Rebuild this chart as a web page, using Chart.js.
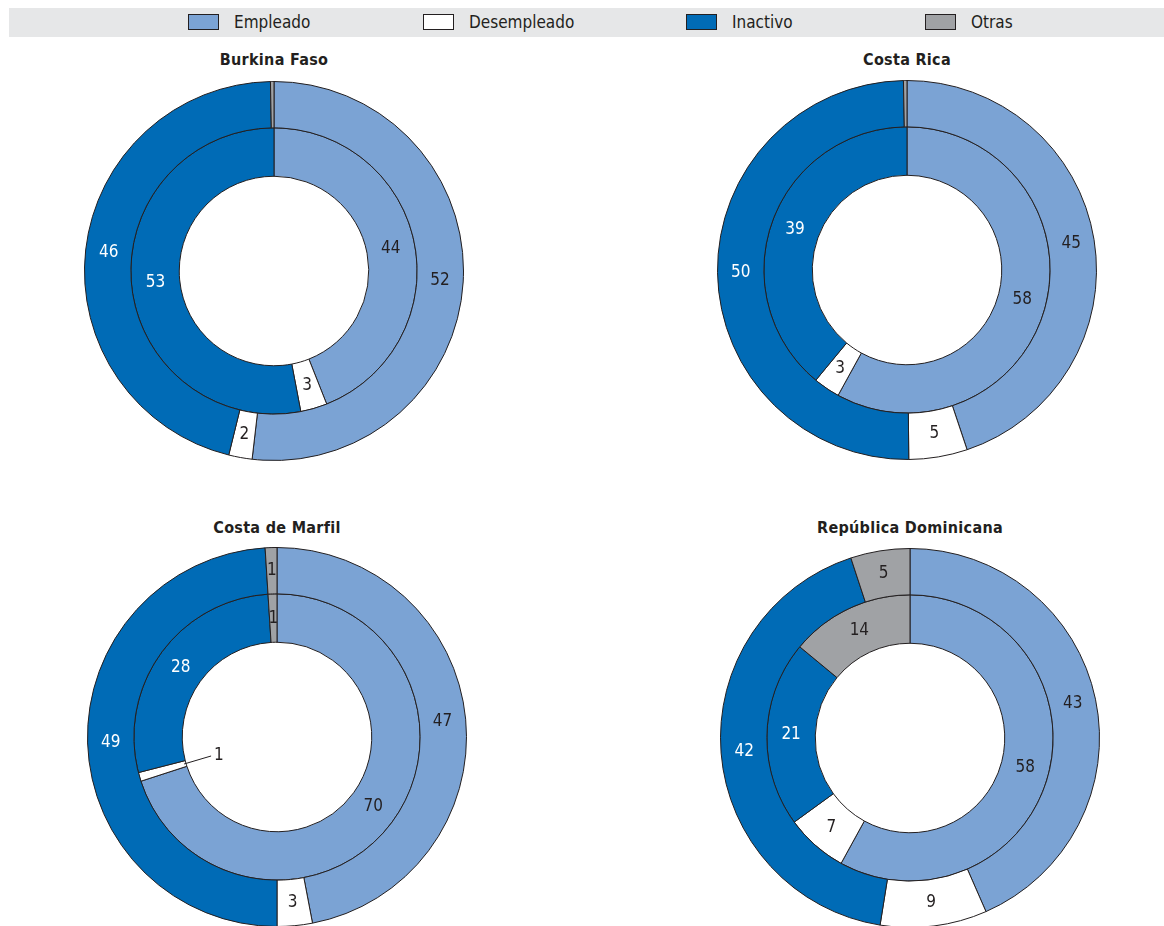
<!DOCTYPE html>
<html>
<head>
<meta charset="utf-8">
<script src="https://cdn.jsdelivr.net/npm/chart.js@4.4.0/dist/chart.umd.min.js"></script>
<style>
  body { margin: 0; background: #fff; font-family: 'Liberation Sans Narrow', 'DejaVu Sans Condensed', 'Roboto', sans-serif; color: #231f20; }
  #page { position: relative; width: 1164px; height: 926px; overflow: hidden; }
  #legend { position: absolute; left: 9px; top: 8px; width: 1155px; height: 29px; background: #e6e7e8; }
  .item { position: absolute; top: 0; height: 29px; line-height: 29px; font-size: 17px; }
  .item .box { position: absolute; top: 6px; left: 0; width: 29px; height: 14px; border: 1px solid #231f20; }
  .item span { position: absolute; left: 46px; white-space: nowrap; }
  .title { position: absolute; width: 400px; text-align: center; font-weight: bold; font-size: 16px; letter-spacing: 0.3px; }
  .wrap { position: absolute; }
</style>
</head>
<body>
<div id="page">
  <div id="legend"></div>
</div>
<script>
// categories and colours
var categories = ['Empleado', 'Desempleado', 'Inactivo', 'Otras'];
var colors = ['#7ba3d4', '#ffffff', '#006bb6', '#a0a2a5'];
var countries = ['Burkina Faso', 'Costa Rica', 'Costa de Marfil', 'República Dominicana'];

// outer ring / inner ring shares (%)
var outerBF = [52, 2, 46, 0.3];
var innerBF = [44, 3, 53, 0];
var outerCR = [45, 5, 50, 0.3];
var innerCR = [58, 3, 39, 0];
var outerCM = [47, 3, 49, 1];
var innerCM = [70, 1, 28, 1];
var outerRD = [43, 9, 42, 5];
var innerRD = [58, 7, 21, 14];

var outerData = [outerBF, outerCR, outerCM, outerRD];
var innerData = [innerBF, innerCR, innerCM, innerRD];

// centers of each chart on the page
var centers = [[274, 271], [907, 270], [277, 737], [910, 738]];
var titleY = [50, 50, 518, 518];
var S = 380;

// legend
var legendX = [188, 423, 686, 925];
var legend = document.getElementById('legend');
categories.forEach(function (c, i) {
  var d = document.createElement('div');
  d.className = 'item';
  d.style.left = (legendX[i] - 9) + 'px';
  d.innerHTML = '<div class="box" style="background:' + colors[i] + '"></div><span>' + c + '</span>';
  legend.appendChild(d);
});

// labels drawn at arc centroids; tiny ones flagged for a leader line
var labelPlugin = {
  id: 'arcLabels',
  afterDatasetsDraw: function (chart) {
    var ctx = chart.ctx;
    ctx.save();
    ctx.font = '17px "Liberation Sans Narrow", "DejaVu Sans Condensed", Roboto, sans-serif';
    chart.data.datasets.forEach(function (ds, di) {
      var meta = chart.getDatasetMeta(di);
      meta.data.forEach(function (arc, i) {
        var v = ds.data[i];
        if (v < 1) return;
        var col = i === 2 ? '#ffffff' : '#231f20';
        var leader = ds.leader && ds.leader.indexOf(i) >= 0;
        if (leader) {
          var p = arc.getProps(['x', 'y', 'startAngle', 'endAngle', 'innerRadius']);
          var a = (p.startAngle + p.endAngle) / 2;
          var x0 = p.x + Math.cos(a) * (p.innerRadius + 2);
          var y0 = p.y + Math.sin(a) * (p.innerRadius + 2);
          var x1 = x0 + 27, y1 = y0 - 8;
          ctx.strokeStyle = '#231f20';
          ctx.lineWidth = 1;
          ctx.beginPath();
          ctx.moveTo(x0, y0);
          ctx.lineTo(x1, y1);
          ctx.stroke();
          ctx.fillStyle = '#231f20';
          ctx.textAlign = 'left';
          ctx.textBaseline = 'middle';
          ctx.fillText(String(v), x1 + 3, y1);
          return;
        }
        var c = arc.getCenterPoint();
        ctx.fillStyle = col;
        ctx.textAlign = 'center';
        ctx.textBaseline = 'middle';
        ctx.fillText(String(v), c.x, c.y);
      });
    });
    ctx.restore();
  }
};

var page = document.getElementById('page');
countries.forEach(function (name, k) {
  var t = document.createElement('div');
  t.className = 'title';
  t.style.left = (centers[k][0] - 200) + 'px';
  t.style.top = titleY[k] + 'px';
  t.textContent = name;
  page.appendChild(t);

  var w = document.createElement('div');
  w.className = 'wrap';
  w.style.left = (centers[k][0] - S / 2) + 'px';
  w.style.top = (centers[k][1] - S / 2) + 'px';
  var cv = document.createElement('canvas');
  cv.width = S;
  cv.height = S;
  w.appendChild(cv);
  page.appendChild(w);

  new Chart(cv.getContext('2d'), {
    type: 'doughnut',
    data: {
      labels: categories,
      datasets: [
        { data: outerData[k], backgroundColor: colors, borderColor: '#231f20', borderWidth: 1, hoverOffset: 0, weight: 46 },
        { data: innerData[k], backgroundColor: colors, borderColor: '#231f20', borderWidth: 1, hoverOffset: 0, weight: 48,
          leader: k === 2 ? [1] : [] }
      ]
    },
    options: {
      responsive: false,
      animation: false,
      cutout: '50%',
      layout: { padding: 0 },
      plugins: { legend: { display: false }, tooltip: { enabled: false } }
    },
    plugins: [labelPlugin]
  });
});
</script>
</body>
</html>
